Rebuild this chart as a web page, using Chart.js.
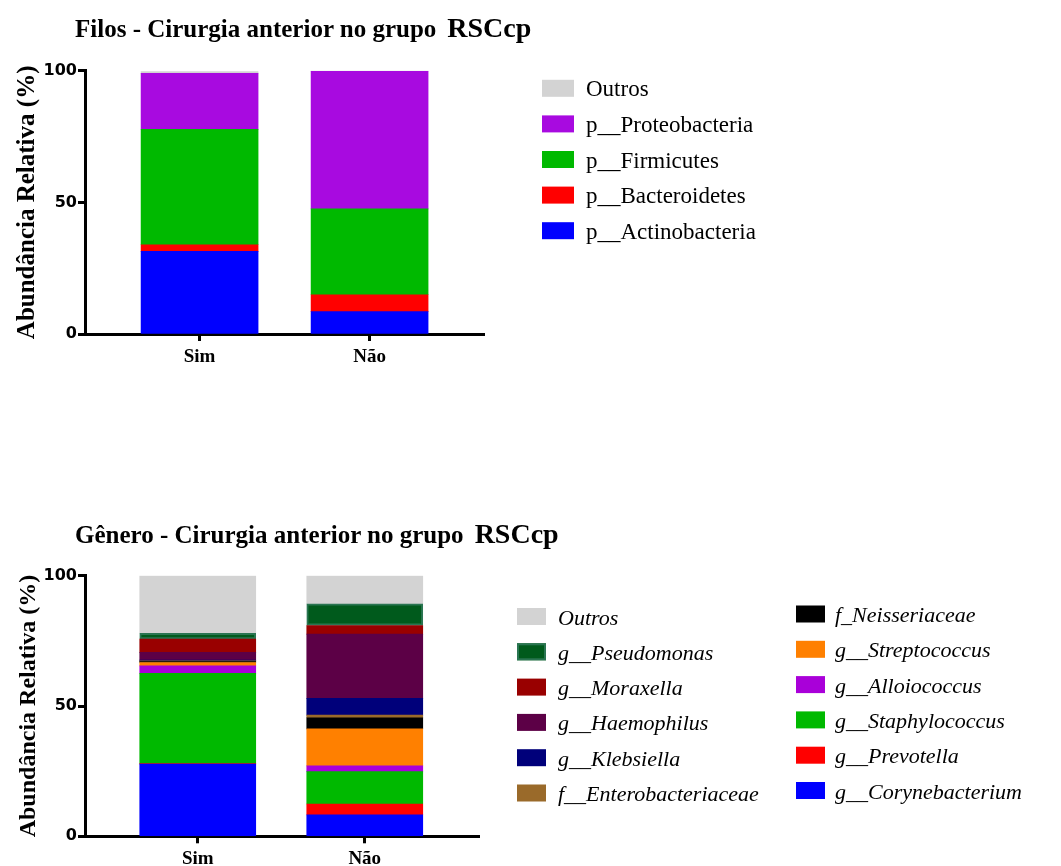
<!DOCTYPE html>
<html><head><meta charset="utf-8">
<script src="https://cdn.jsdelivr.net/npm/chart.js@4"></script>
<style>
html,body{margin:0;padding:0;background:#fff;width:1061px;height:866px;overflow:hidden;position:relative;}
.title{position:absolute;left:75px;font-family:"Liberation Serif","Times New Roman",serif;font-weight:bold;font-size:25px;line-height:25px;white-space:nowrap;color:#000}
.title .big{font-size:28px;line-height:25px;margin-left:4px}
.cw{position:absolute;left:0;}
</style></head>
<body>
<div class="cw" style="top:0px"><canvas id="c1" width="1061" height="380"></canvas></div>
<div class="cw" style="top:500px"><canvas id="c2" width="1061" height="380"></canvas></div>
<div class="title" style="top:15px">Filos - Cirurgia anterior no grupo<span class="big"> RSCcp</span></div>
<div class="title" style="top:521px">Gênero - Cirurgia anterior no grupo<span class="big"> RSCcp</span></div>
<script>
const categories = ['Sim', 'Não'];
const yTicks = [0, 50, 100];

// Filos (legend order, top to bottom)
const phylaNames = ['Outros', 'p__Proteobacteria', 'p__Firmicutes', 'p__Bacteroidetes', 'p__Actinobacteria'];
const phylaSim = [0.7, 21.3, 43.8, 2.5, 31.4];
const phylaNao = [0.2, 52.3, 32.6, 6.4, 8.5];

// Gênero (legend order, top to bottom)
const genusNames = ['Outros', 'g__Pseudomonas', 'g__Moraxella', 'g__Haemophilus', 'g__Klebsiella', 'f__Enterobacteriaceae',
  'f_Neisseriaceae', 'g__Streptococcus', 'g__Alloiococcus', 'g__Staphylococcus', 'g__Prevotella', 'g__Corynebacterium'];
const genusSim = [22.1, 2.2, 5.1, 3.0, 0.3, 0.3, 0.3, 1.3, 2.9, 34.6, 0.2, 27.7];
const genusNao = [10.8, 8.3, 3.3, 24.7, 6.4, 1.0, 4.3, 14.2, 2.2, 12.4, 4.2, 8.2];

const phylaColors = ['#d3d3d3', '#a80ae0', '#00b900', '#ff0000', '#0000ff'];
const genusColors = ['#d3d3d3', '#005a1c', '#990000', '#5c0046', '#00007a', '#9a6a2a',
  '#000000', '#ff8000', '#a900d9', '#00b900', '#ff0000', '#0000ff'];
const genusBorders = {1: '#2a7552'};

// Legend drawn on the canvas from the chart's own datasets
const sideLegend = {
  id: 'sideLegend',
  afterDraw(chart, args, opts) {
    const ctx = chart.ctx;
    const ds = chart.data.datasets.slice().reverse(); // legend order = top of stack first
    ctx.save();
    ds.forEach((d, i) => {
      const col = opts.columns.find(c => i >= c.from && i < c.from + c.count);
      const k = i - col.from;
      const top = col.y0 + k * opts.step;
      ctx.fillStyle = d.backgroundColor;
      ctx.fillRect(col.x, top, opts.swW, opts.swH);
      if (d.borderWidth) {
        ctx.strokeStyle = d.borderColor;
        ctx.lineWidth = 2;
        ctx.strokeRect(col.x + 1, top + 1, opts.swW - 2, opts.swH - 2);
      }
      ctx.fillStyle = '#000';
      ctx.font = (opts.italic ? 'italic ' : '') + opts.size + 'px "Liberation Serif", "Times New Roman", serif';
      ctx.textBaseline = 'alphabetic';
      ctx.textAlign = 'left';
      ctx.fillText(d.label, col.x + col.txOff, top + opts.swH - 0.5);
    });
    ctx.restore();
  }
};

function makeChart(id, names, sim, nao, colors, borders, o, legend) {
  const datasets = names.map((n, i) => ({
    label: n,
    data: [{x: 0, y: sim[i]}, {x: 1, y: nao[i]}],
    backgroundColor: colors[i],
    borderColor: borders[i] || colors[i],
    borderWidth: borders[i] ? 2 : 0,
    borderSkipped: false,
    barThickness: o.bar
  })).reverse();
  const axisBorder = {display: true, width: 3, color: '#000'};
  return new Chart(document.getElementById(id), {
    type: 'bar',
    data: {datasets},
    plugins: [sideLegend],
    options: {
      responsive: false, animation: false,
      layout: {padding: {top: o.top, right: o.right, left: 0, bottom: 0}},
      plugins: {legend: {display: false}, tooltip: {enabled: false}, sideLegend: legend},
      scales: {
        x: {
          type: 'linear', stacked: true, offset: false, min: o.xmin, max: o.xmax,
          afterBuildTicks: s => { s.ticks = categories.map((c, i) => ({value: i})); },
          ticks: {callback: v => categories[v], font: {family: 'Liberation Serif', weight: 'bold', size: 19},
            color: '#000', padding: o.xpad, maxRotation: 0, autoSkip: false},
          grid: {offset: false, drawOnChartArea: false, drawTicks: true, tickLength: 7, tickWidth: 3, tickColor: '#000'},
          border: axisBorder,
          afterFit: s => { s.height = o.xh; }
        },
        y: {
          stacked: true, min: 0, max: 100,
          afterBuildTicks: s => { s.ticks = yTicks.map(v => ({value: v})); },
          ticks: {font: {family: 'DejaVu Sans', weight: 'bold', size: 16}, color: '#000', padding: 1},
          grid: {drawOnChartArea: false, drawTicks: true, tickLength: 7, tickWidth: 3, tickColor: '#000'},
          border: axisBorder,
          title: {display: true, text: 'Abundância Relativa (%)', color: '#000',
            font: {family: 'Liberation Serif', weight: 'bold', size: o.tsize}, padding: {top: o.tpad, bottom: 0}},
          afterFit: s => { s.width = 85; }
        }
      }
    }
  });
}

makeChart('c1', phylaNames, phylaSim, phylaNao, phylaColors, {},
  {top: 70.7, right: 1061 - 484, xh: 46, xpad: 5, xmin: -0.674, xmax: 1.673, bar: 117, tsize: 25, tpad: 13},
  {step: 35.6, swW: 32, swH: 17, size: 23, italic: false,
   columns: [{from: 0, count: 5, x: 542, y0: 79.8, txOff: 44}]});
makeChart('c2', genusNames, genusSim, genusNao, genusColors, genusBorders,
  {top: 75.7, right: 1061 - 479, xh: 43.7, xpad: 4, xmin: -0.675, xmax: 1.684, bar: 116, tsize: 24, tpad: 14},
  {step: 35.3, swW: 29, swH: 17, size: 22, italic: true,
   columns: [{from: 0, count: 6, x: 517, y0: 108, txOff: 41}, {from: 6, count: 6, x: 796, y0: 105.5, txOff: 39}]});
</script>
</body></html>
